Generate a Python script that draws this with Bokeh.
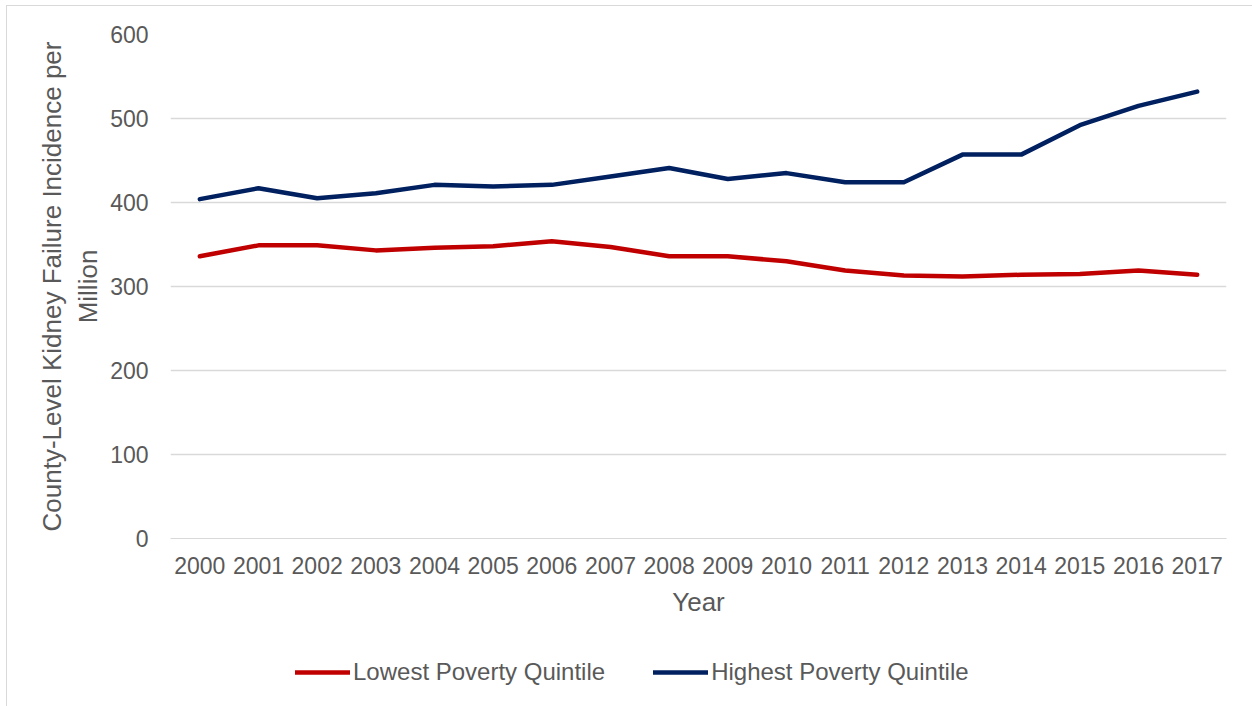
from bokeh.plotting import figure
from bokeh.models import ColumnDataSource, Legend, LegendItem, FixedTicker, Range1d
from bokeh.layouts import column
from bokeh.embed import file_html
from bokeh.resources import INLINE

years = list(range(2000, 2018))
lowest = [336, 349, 349, 343, 346, 348, 354, 347, 336, 336, 330, 319, 313, 312, 314, 315, 319, 314]
highest = [404, 417, 405, 411, 421, 419, 421, 431, 441, 428, 435, 424, 424, 457, 457, 492, 515, 532]
y_ticks = [0, 100, 200, 300, 400, 500, 600]
series_names = ["Lowest Poverty Quintile", "Highest Poverty Quintile"]
colors = ["#C00000", "#002060"]

src = ColumnDataSource(dict(year=years, low=lowest, high=highest))

FONT = "Liberation Sans"
GREY = "#595959"

p = figure(width=1245, height=634, output_backend="svg", toolbar_location=None,
           x_range=Range1d(1999.5, 2017.5), y_range=Range1d(0, 600),
           min_border_left=163, min_border_right=26, min_border_top=28, min_border_bottom=102,
           background_fill_color="white", border_fill_color="white", outline_line_color=None)

p.line("year", "low", source=src, line_color=colors[0], line_width=4.5, line_cap="round", line_join="round")
p.line("year", "high", source=src, line_color=colors[1], line_width=4.5, line_cap="round", line_join="round")

p.xaxis.ticker = FixedTicker(ticks=years)
p.yaxis.ticker = FixedTicker(ticks=y_ticks)
p.xgrid.grid_line_color = None
p.ygrid.grid_line_color = "#d9d9d9"
p.ygrid.grid_line_width = 1.3

for ax in (p.xaxis[0], p.yaxis[0]):
    ax.major_tick_line_color = None
    ax.minor_tick_line_color = None
    ax.major_label_text_font = FONT
    ax.major_label_text_font_size = "23px"
    ax.major_label_text_color = GREY
    ax.axis_label_text_font = FONT
    ax.axis_label_text_font_size = "26px"
    ax.axis_label_text_color = GREY
    ax.axis_label_text_font_style = "normal"

p.xaxis.axis_line_color = "#d9d9d9"
p.yaxis.axis_line_color = None
p.xaxis.major_label_standoff = 12
p.yaxis.major_label_standoff = 16
p.xaxis.axis_label = "Year"
p.xaxis.axis_label_standoff = 10
p.yaxis.axis_label = "County-Level Kidney Failure Incidence per\nMillion"
p.yaxis.axis_label_standoff = 4

# legend strip (separate figure so the legend can sit off-centre below the chart)
p2 = figure(width=1245, height=66, output_backend="svg", toolbar_location=None,
            x_range=Range1d(1999.5, 2017.5), y_range=Range1d(1000, 1001),
            min_border_left=0, min_border_right=0, min_border_top=0, min_border_bottom=0,
            background_fill_color="white", border_fill_color="white", outline_line_color=None)
p2.axis.visible = False
p2.grid.visible = False
l_low = p2.line("year", "low", source=src, line_color=colors[0], line_width=4.5, line_cap="round")
l_high = p2.line("year", "high", source=src, line_color=colors[1], line_width=4.5, line_cap="round")

legend = Legend(items=[LegendItem(label=series_names[0], renderers=[l_low]),
                       LegendItem(label=series_names[1], renderers=[l_high])],
                orientation="horizontal", location=(125, 20),
                label_text_font=FONT, label_text_font_size="24px", label_text_color=GREY,
                glyph_width=55, glyph_height=24, label_standoff=3, spacing=48,
                border_line_color=None, background_fill_alpha=0, margin=0, padding=0)
p2.add_layout(legend, "center")

layout = column(p, p2, spacing=0, margin=(5, 0, 0, 6),
                styles={"border-left": "1px solid #d9d9d9", "border-top": "1px solid #d9d9d9"})

open("out.html", "w").write(file_html(layout, INLINE))
